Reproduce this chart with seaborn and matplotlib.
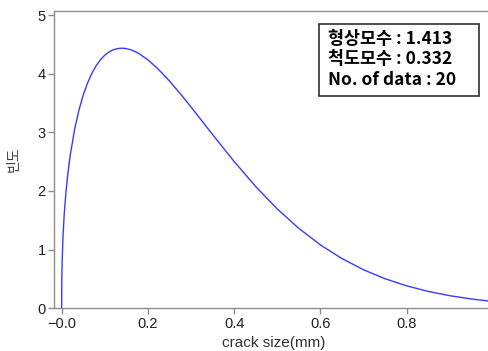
import matplotlib
matplotlib.use("Agg")
import matplotlib.pyplot as plt
import seaborn as sns
import pandas as pd
from matplotlib.patches import Rectangle

# values
crack_size = [0.0, 0.0001, 0.0003, 0.001, 0.003, 0.006, 0.01, 0.015, 0.02, 0.03,
              0.04, 0.05, 0.06, 0.07, 0.08, 0.09, 0.10, 0.11, 0.12, 0.13, 0.14,
              0.15, 0.16, 0.17, 0.18, 0.20, 0.22, 0.24,
              0.25, 0.275, 0.30, 0.35, 0.40, 0.45, 0.50, 0.55, 0.60, 0.65, 0.70,
              0.75, 0.80, 0.85, 0.90, 0.95, 1.00]
frequency = [0.0, 0.30, 0.47, 0.774, 1.217, 1.617, 1.990, 2.339, 2.618, 3.050,
             3.378, 3.636, 3.841, 4.004, 4.137, 4.238, 4.316, 4.372, 4.409, 4.429, 4.435,
             4.428, 4.408, 4.379, 4.339, 4.236, 4.106, 3.956,
             3.875, 3.660, 3.432, 2.962, 2.503, 2.076, 1.694, 1.363, 1.081, 0.848, 0.657,
             0.504, 0.383, 0.288, 0.215, 0.159, 0.116]
x_ticks = [0.0, 0.2, 0.4, 0.6, 0.8]
x_tick_labels = ["\u22120.0", "0.2", "0.4", "0.6", "0.8"]
y_ticks = [0, 1, 2, 3, 4, 5]
info_lines = ["형상모수 : 1.413", "척도모수 : 0.332", "No. of data : 20"]

sns.set_theme(style="ticks")
plt.rcParams['font.family'] = ['Liberation Sans', 'Noto Sans CJK KR', 'DejaVu Sans']

W, H = 488, 351
fig = plt.figure(figsize=(W / 100, H / 100), dpi=100)
ax = fig.add_axes([54 / W, 1 - 308.3 / H, (W - 54) / W + 0.01, (308.3 - 11) / H])

df = pd.DataFrame({"crack size(mm)": crack_size, "빈도": frequency})
sns.lineplot(data=df, x="crack size(mm)", y="빈도", ax=ax, color="#3a3aff",
             linewidth=1.0, sort=False)

ax.set_xlim(-0.0178, 1.0)
ax.set_ylim(0, (308.3 - 11) / 58.65)
ax.set_xticks(x_ticks)
ax.set_xticklabels(x_tick_labels)
ax.set_yticks(y_ticks)

gray = "#8c8c8c"
for s in ["left", "bottom", "top"]:
    ax.spines[s].set_color(gray)
    ax.spines[s].set_linewidth(1.0)
ax.spines["right"].set_visible(False)
ax.tick_params(axis="both", colors=gray, length=4, width=1.0, direction="out",
               labelsize=10.5, labelcolor="#202020", pad=2)

ax.set_xlabel("crack size(mm)", fontsize=11, color="#303030", labelpad=4,
              family=['Liberation Sans', 'DejaVu Sans'])
ax.set_ylabel("빈도", fontsize=10, color="#404040", labelpad=12,
              family=['Noto Sans CJK KR', 'DejaVu Sans'])

# info box
fig.patches.append(Rectangle((319 / W, 1 - 96 / H), (479 - 319) / W, (96 - 24) / H,
                             transform=fig.transFigure, facecolor="white",
                             edgecolor="#404040", linewidth=1.3, zorder=5))
for i, t in enumerate(info_lines):
    fig.text(328 / W, 1 - (39 + 20.5 * i) / H, t, fontsize=12.5, color="black",
             va="center", ha="left", fontweight="bold", zorder=6,
             family=['Noto Sans CJK KR', 'DejaVu Sans'])

fig.savefig("out.png", dpi=100)
